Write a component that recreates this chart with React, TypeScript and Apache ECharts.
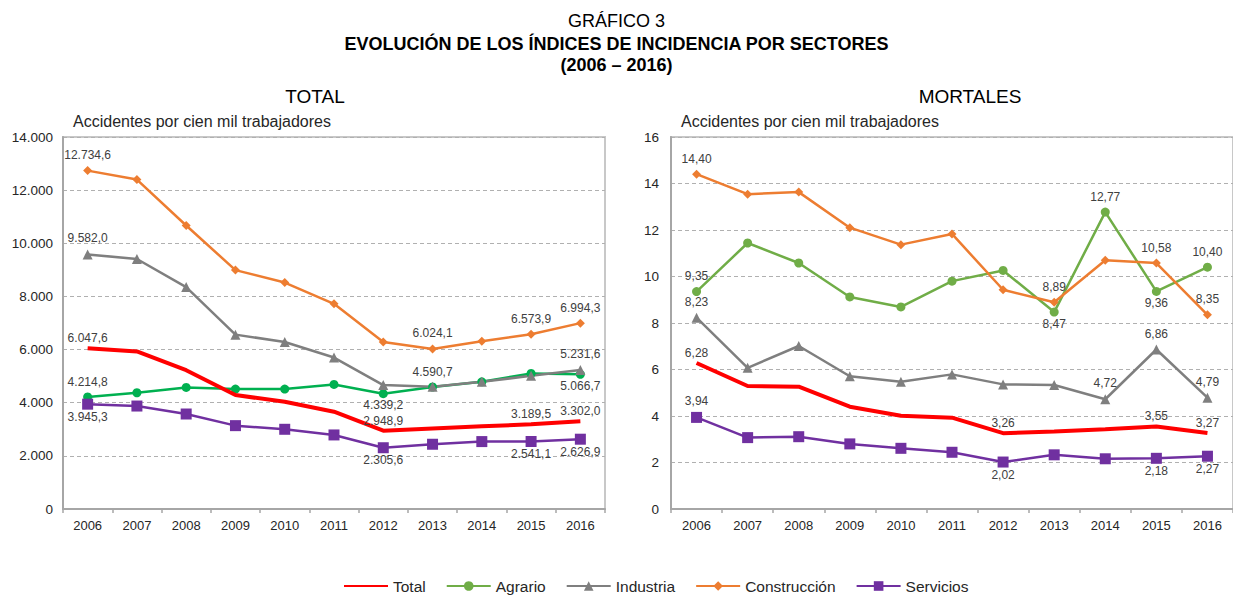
import React, { useEffect, useRef } from "react";
import * as echarts from "echarts";

const years = ["2006", "2007", "2008", "2009", "2010", "2011", "2012", "2013", "2014", "2015", "2016"];

// TOTAL (accidentes por cien mil trabajadores)
const totTotal = [6047.6, 5930, 5225, 4287, 4037, 3662, 2948.9, 3030, 3110, 3189.5, 3302.0];
const totAgrario = [4214.8, 4375, 4575, 4512, 4512, 4687, 4339.2, 4590.7, 4787, 5100, 5066.7];
const totIndustria = [9582.0, 9410, 8353, 6562, 6287, 5700, 4662, 4600, 4787, 5012, 5231.6];
const totConstruccion = [12734.6, 12397, 10669, 8990, 8523, 7722, 6287, 6024.1, 6312, 6573.9, 6994.3];
const totServicios = [3945.3, 3875, 3575, 3137, 3000, 2787, 2305.6, 2437, 2537, 2541.1, 2626.9];

// MORTALES
const morTotal = [6.28, 5.29, 5.26, 4.4, 4.01, 3.93, 3.26, 3.33, 3.43, 3.55, 3.27];
const morAgrario = [9.35, 11.44, 10.58, 9.12, 8.69, 9.8, 10.26, 8.47, 12.77, 9.36, 10.4];
const morIndustria = [8.23, 6.07, 7.01, 5.71, 5.47, 5.79, 5.36, 5.33, 4.72, 6.86, 4.79];
const morConstruccion = [14.4, 13.54, 13.63, 12.1, 11.37, 11.83, 9.43, 8.89, 10.7, 10.58, 8.35];
const morServicios = [3.94, 3.07, 3.11, 2.8, 2.61, 2.44, 2.02, 2.33, 2.16, 2.18, 2.27];

const leftTicks = { min: 0, max: 14000, interval: 2000 };
const rightTicks = { min: 0, max: 16, interval: 2 };

type Pos = "top" | "bottom";
const leftLabels: Record<string, Record<number, Pos>> = {
  Total: { 0: "top", 6: "top", 9: "top", 10: "top" },
  Agrario: { 0: "top", 6: "bottom", 7: "top", 10: "bottom" },
  Industria: { 0: "top", 10: "top" },
  "Construcción": { 0: "top", 7: "top", 9: "top", 10: "top" },
  Servicios: { 0: "bottom", 6: "bottom", 9: "bottom", 10: "bottom" },
};
const rightLabels: Record<string, Record<number, Pos>> = {
  Total: { 0: "top", 6: "top", 9: "top", 10: "top" },
  Agrario: { 0: "top", 7: "bottom", 8: "top", 9: "bottom", 10: "top" },
  Industria: { 0: "top", 8: "top", 9: "top", 10: "top" },
  "Construcción": { 0: "top", 7: "top", 9: "top", 10: "top" },
  Servicios: { 0: "top", 6: "bottom", 9: "bottom", 10: "bottom" },
};

const FONT = "'Liberation Sans', Arial, sans-serif";

function fmtEs(v: number, dec: number): string {
  const s = v.toFixed(dec);
  const [i, d] = s.split(".");
  const ii = i.replace(/\B(?=(\d{3})+(?!\d))/g, ".");
  return d ? ii + "," + d : ii;
}

const sectorStyle: Record<string, any> = {
  Total: { color: "#FF0000", symbol: "circle", size: 0.01, width: 4 },
  Agrario: { color: "#70AD47", leftColor: "#00B050", symbol: "circle", size: 9, width: 2.5 },
  Industria: { color: "#7F7F7F", symbol: "triangle", size: 10, width: 2.5 },
  "Construcción": { color: "#ED7D31", symbol: "diamond", size: 9, width: 2.5 },
  Servicios: { color: "#7030A0", symbol: "rect", size: 11, width: 2.5 },
};

function makeSeries(name: string, values: number[], idx: number, labels: Record<number, Pos>, dec: number, left: boolean) {
  const st = sectorStyle[name];
  const color = left && st.leftColor ? st.leftColor : st.color;
  return {
    name,
    type: "line",
    xAxisIndex: idx,
    yAxisIndex: idx,
    symbol: st.symbol,
    symbolSize: st.size,
    showSymbol: true,
    lineStyle: { color, width: st.width },
    itemStyle: { color },
    z: name === "Total" ? 3 : 2,
    data: values.map((v, i) => {
      const p = labels[i];
      return p
        ? {
            value: v,
            label: {
              show: true,
              position: p,
              distance: name === "Total" ? 4 : p === "bottom" ? 1 : 5,
              formatter: () => fmtEs(v, dec),
              color: "#404040",
              fontSize: 12,
              fontFamily: FONT,
            },
          }
        : { value: v };
    }),
  };
}

export default function App() {
  const ref = useRef<HTMLDivElement>(null);
  useEffect(() => {
    if (!ref.current) return;
    const chart = echarts.init(ref.current, undefined, { renderer: "svg" });
    const axisLineStyle = { color: "#A6A6A6", width: 2 };
    const xAxisBase = {
      type: "category",
      data: years,
      boundaryGap: true,
      axisLine: { show: true, lineStyle: axisLineStyle },
      axisTick: { show: true, length: 4, lineStyle: { color: "#A6A6A6", width: 1.5 } },
      axisLabel: { color: "#262626", fontSize: 13, fontFamily: FONT, margin: 10 },
      splitLine: { show: false },
    };
    const yAxisBase = {
      type: "value",
      axisLine: { show: true, lineStyle: axisLineStyle },
      axisTick: { show: false },
      splitLine: { show: true, lineStyle: { color: "#B0B0B0", type: [4, 3], width: 1 } },
    };
    const names = ["Total", "Agrario", "Industria", "Construcción", "Servicios"];
    const leftVals = [totTotal, totAgrario, totIndustria, totConstruccion, totServicios];
    const rightVals = [morTotal, morAgrario, morIndustria, morConstruccion, morServicios];
    const series: any[] = [];
    names.forEach((n, k) => series.push(makeSeries(n, leftVals[k], 0, leftLabels[n], 1, true)));
    names.forEach((n, k) => series.push(makeSeries(n, rightVals[k], 1, rightLabels[n], 2, false)));

    const tStyle = (size: number, bold: boolean, color = "#000") => ({
      fontSize: size,
      fontWeight: bold ? "bold" : "normal",
      color,
      fontFamily: FONT,
    });

    chart.setOption({
      animation: false,
      backgroundColor: "#FFFFFF",
      textStyle: { fontFamily: FONT },
      title: [
        { text: "GRÁFICO 3", left: "center", top: 7, textStyle: tStyle(18, false) },
        { text: "EVOLUCIÓN DE LOS ÍNDICES DE INCIDENCIA POR SECTORES", left: "center", top: 30, textStyle: tStyle(18, true) },
        { text: "(2006 – 2016)", left: "center", top: 51, textStyle: tStyle(18, true) },
        { text: "TOTAL", left: 310, textAlign: "center", top: 82, textStyle: tStyle(19, false) },
        { text: "MORTALES", left: 965, textAlign: "center", top: 82, textStyle: tStyle(19, false) },
        { text: "Accidentes por cien mil trabajadores", left: 68, top: 108, textStyle: tStyle(16, false, "#262626") },
        { text: "Accidentes por cien mil trabajadores", left: 676, top: 108, textStyle: tStyle(16, false, "#262626") },
      ],
      legend: {
        left: 343,
        top: 578,
        itemWidth: 44,
        itemHeight: 12,
        itemGap: 20,
        padding: 0,
        textStyle: { fontSize: 15.5, color: "#262626", fontFamily: FONT },
        data: [
          { name: "Total", itemStyle: { opacity: 0 } },
          { name: "Agrario", itemStyle: { color: "#70AD47" }, lineStyle: { color: "#70AD47" } },
          { name: "Industria" },
          { name: "Construcción" },
          { name: "Servicios" },
        ],
      },
      grid: [
        { left: 63, top: 137, width: 542, height: 372, show: true, borderColor: "#C8C8C8", borderWidth: 2, backgroundColor: "transparent" },
        { left: 671, top: 137, right: -5, height: 372, show: true, borderColor: "#C8C8C8", borderWidth: 2, backgroundColor: "transparent" },
      ],
      xAxis: [
        { ...xAxisBase, gridIndex: 0 },
        { ...xAxisBase, gridIndex: 1 },
      ],
      yAxis: [
        {
          ...yAxisBase,
          gridIndex: 0,
          ...leftTicks,
          axisLabel: { color: "#262626", fontSize: 13.5, fontFamily: FONT, margin: 10, formatter: (v: number) => fmtEs(v, 0) },
        },
        {
          ...yAxisBase,
          gridIndex: 1,
          ...rightTicks,
          axisLabel: { color: "#262626", fontSize: 13.5, fontFamily: FONT, margin: 12, formatter: (v: number) => String(v) },
        },
      ],
      series,
    });
    return () => chart.dispose();
  }, []);
  return <div ref={ref} style={{ position: "absolute", left: 0, top: 0, width: 1233, height: 596 }} />;
}
